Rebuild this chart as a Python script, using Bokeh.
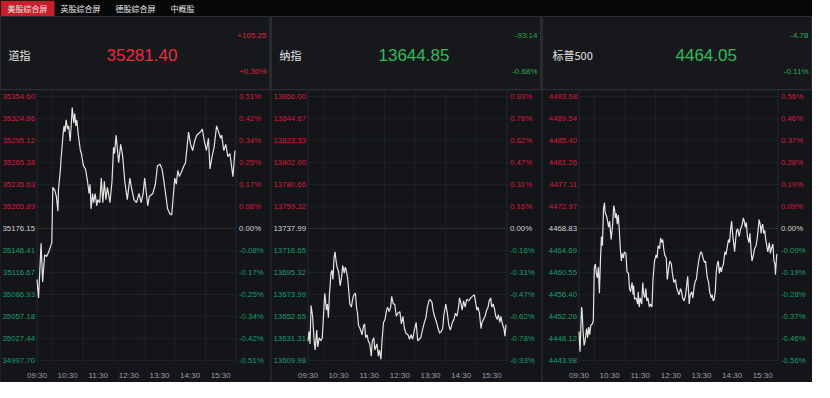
from bokeh.plotting import figure
from bokeh.layouts import column, row
from bokeh.models import Range1d, FixedTicker, ColumnDataSource
from bokeh.embed import file_html
from bokeh.resources import INLINE
from bokeh.core.properties import value

# ---------------- data ----------------
tabs = ["美股综合屏", "英股综合屏", "德股综合屏", "中概股"]
names = ["道指", "纳指", "标普500"]
prev_close = [35176.15, 13737.99, 4468.83]

time_tick_min = [0, 60, 120, 180, 240, 300, 360]
time_tick_labels = ["09:30", "10:30", "11:30", "12:30", "13:30", "14:30", "15:30"]
hour_grid_min = [30, 90, 150, 210, 270, 330]
session_minutes = 390

dow_left = ["35354.60", "35324.86", "35295.12", "35265.38", "35235.63", "35205.89", "35176.15",
            "35146.41", "35116.67", "35086.93", "35057.18", "35027.44", "34997.70"]
dow_right = ["0.51%", "0.42%", "0.34%", "0.25%", "0.17%", "0.08%", "0.00%",
             "-0.08%", "-0.17%", "-0.25%", "-0.34%", "-0.42%", "-0.51%"]
nas_left = ["13866.00", "13844.67", "13823.33", "13802.00", "13780.66", "13759.32", "13737.99",
            "13716.65", "13695.32", "13673.99", "13652.65", "13631.31", "13609.98"]
nas_right = ["0.93%", "0.78%", "0.62%", "0.47%", "0.31%", "0.16%", "0.00%",
             "-0.16%", "-0.31%", "-0.47%", "-0.62%", "-0.78%", "-0.93%"]
spx_left = ["4493.68", "4489.54", "4485.40", "4481.26", "4477.11", "4472.97", "4468.83",
            "4464.69", "4460.55", "4456.40", "4452.26", "4448.12", "4443.98"]
spx_right = ["0.56%", "0.46%", "0.37%", "0.28%", "0.19%", "0.09%", "0.00%",
             "-0.09%", "-0.19%", "-0.28%", "-0.37%", "-0.46%", "-0.56%"]

dow_t = [0, 3, 8, 11, 15, 19, 23, 27, 29, 31, 35, 38, 41, 42, 46, 47, 51, 53, 55, 57,
         60, 62, 65, 67, 69, 72, 74, 76, 78, 81, 85, 87, 91, 95, 99, 102, 104, 106, 109, 111,
         114, 117, 119, 123, 126, 129, 132, 135, 138, 143, 147, 150, 152, 155, 160, 164, 168, 172, 177, 182,
         185, 190, 195, 200, 204, 208, 211, 217, 220, 227, 232, 236, 241, 245, 247, 252, 256, 260, 264, 267,
         270, 273, 276, 279, 283, 288, 291, 294, 297, 301, 305, 309, 313, 320, 324, 328, 332, 336, 339, 343,
         347, 352, 356, 360, 362, 366, 370, 374, 378, 382, 384, 388]
dow_v = [35107.3, 35082.4, 35156.2, 35104.0, 35140.5, 35138.4, 35144.6, 35152.9, 35157.1, 35231.7,
         35227.6, 35219.3, 35199.4, 35227.6, 35256.6, 35269.1, 35302.2, 35314.7, 35306.4, 35323.0,
         35310.5, 35314.7, 35294.0, 35314.7, 35339.6, 35318.8, 35331.3, 35314.7, 35323.0, 35302.2,
         35281.5, 35277.4, 35260.8, 35256.6, 35240.0, 35223.4, 35235.9, 35202.7, 35223.4, 35211.0,
         35223.4, 35206.8, 35215.1, 35211.0, 35244.2, 35211.0, 35240.0, 35215.1, 35231.7, 35211.0,
         35240.0, 35285.7, 35277.4, 35302.2, 35264.9, 35289.8, 35273.2, 35240.0, 35215.1, 35244.2,
         35231.7, 35215.1, 35211.0, 35223.4, 35211.0, 35223.4, 35244.2, 35206.8, 35219.3, 35223.4,
         35235.9, 35260.8, 35262.8, 35256.6, 35248.3, 35223.4, 35202.7, 35196.5, 35194.4, 35219.3,
         35244.2, 35235.9, 35254.5, 35246.2, 35252.5, 35260.8, 35264.9, 35285.7, 35306.4, 35289.8,
         35281.5, 35294.0, 35302.2, 35306.4, 35310.5, 35294.0, 35281.5, 35298.1, 35256.6, 35273.2,
         35285.7, 35314.7, 35306.4, 35298.1, 35302.2, 35281.5, 35289.8, 35273.2, 35277.4, 35256.6,
         35246.2, 35281.4]

nas_t = [0, 2, 4, 6, 9, 12, 14, 17, 19, 22, 25, 28, 32, 33, 36, 38, 40, 42, 45, 47,
         49, 51, 53, 55, 57, 60, 63, 66, 68, 71, 73, 75, 78, 80, 82, 85, 88, 90, 93, 95,
         97, 99, 102, 106, 109, 111, 113, 116, 118, 121, 124, 126, 129, 131, 135, 138, 140, 143, 145, 148,
         151, 154, 156, 159, 162, 164, 167, 170, 173, 176, 180, 183, 186, 189, 192, 196, 199, 202, 205, 209,
         212, 215, 218, 221, 225, 228, 231, 234, 237, 239, 243, 245, 248, 252, 255, 258, 261, 264, 266, 270,
         273, 276, 279, 283, 286, 289, 292, 295, 297, 300, 302, 305, 308, 311, 315, 319, 322, 326, 328, 331,
         333, 336, 339, 341, 344, 347, 350, 353, 355, 358, 360, 363, 366, 368, 371, 373, 376, 378, 381, 384,
         386, 388]
nas_v = [13629.1, 13638.0, 13626.1, 13663.3, 13652.9, 13629.1, 13620.2, 13639.5, 13623.1, 13632.1,
         13629.1, 13632.1, 13667.8, 13675.2, 13658.8, 13664.8, 13651.4, 13673.7, 13694.6, 13697.5,
         13688.6, 13709.4, 13715.4, 13706.5, 13700.5, 13696.0, 13682.6, 13691.6, 13702.0, 13694.6,
         13700.5, 13697.5, 13688.6, 13676.7, 13664.8, 13661.8, 13670.7, 13673.7, 13675.2, 13661.8,
         13655.9, 13644.0, 13641.0, 13635.0, 13644.0, 13645.4, 13632.1, 13635.0, 13629.1, 13626.1,
         13614.2, 13629.1, 13632.1, 13620.2, 13626.1, 13614.2, 13620.2, 13611.2, 13629.1, 13646.9,
         13649.9, 13658.8, 13661.8, 13657.4, 13661.8, 13672.2, 13664.8, 13664.8, 13652.9, 13655.9,
         13657.4, 13645.4, 13652.9, 13641.0, 13636.5, 13635.0, 13630.6, 13635.0, 13630.6, 13641.0,
         13646.9, 13629.1, 13630.6, 13632.1, 13641.0, 13646.9, 13651.4, 13661.8, 13667.8, 13669.3,
         13666.3, 13658.8, 13652.9, 13646.9, 13641.0, 13636.5, 13638.0, 13641.0, 13652.9, 13664.8,
         13655.9, 13644.0, 13639.5, 13646.9, 13649.9, 13655.9, 13652.9, 13661.8, 13670.7, 13664.8,
         13658.8, 13667.8, 13661.8, 13669.3, 13667.8, 13670.7, 13672.2, 13673.7, 13667.8, 13658.8,
         13661.8, 13655.9, 13641.0, 13646.9, 13649.9, 13652.9, 13658.8, 13661.8, 13667.8, 13670.7,
         13661.8, 13664.8, 13658.8, 13652.9, 13649.9, 13654.4, 13646.9, 13652.9, 13645.4, 13641.0,
         13633.5, 13644.85]

spx_t = [0, 2, 5, 6, 8, 10, 12, 15, 17, 19, 21, 23, 26, 28, 30, 32, 34, 36, 38, 40,
         42, 44, 46, 48, 50, 51, 53, 55, 58, 60, 63, 66, 68, 70, 71, 73, 75, 77, 79, 81,
         83, 85, 87, 89, 92, 94, 97, 99, 101, 104, 106, 107, 109, 112, 115, 116, 118, 120, 123, 125,
         127, 129, 131, 133, 135, 138, 140, 143, 145, 148, 151, 153, 155, 158, 160, 162, 164, 166, 168, 171,
         173, 176, 178, 181, 183, 186, 189, 191, 194, 196, 199, 201, 203, 206, 209, 211, 213, 216, 218, 221,
         223, 226, 228, 230, 232, 235, 237, 239, 241, 243, 246, 248, 251, 254, 256, 259, 261, 263, 265, 267,
         269, 271, 273, 275, 277, 279, 281, 283, 286, 288, 291, 293, 295, 297, 299, 301, 303, 305, 307, 309,
         311, 314, 316, 318, 320, 322, 324, 326, 328, 330, 333, 335, 337, 339, 342, 344, 347, 349, 351, 353,
         355, 357, 358, 360, 362, 364, 366, 368, 370, 373, 375, 377, 380, 382, 384, 385, 387, 388]
spx_v = [4449.42, 4445.66, 4454.04, 4453.46, 4449.42, 4446.82, 4447.68, 4449.99, 4448.26, 4450.28,
         4448.84, 4450.57, 4450.86, 4451.44, 4461.55, 4462.13, 4460.39, 4459.53, 4461.55, 4456.64,
         4462.71, 4467.33, 4465.59, 4472.53, 4473.68, 4471.95, 4471.37, 4470.79, 4469.06, 4470.22,
         4466.75, 4469.64, 4473.11, 4472.24, 4470.79, 4471.66, 4469.64, 4471.37, 4468.48, 4465.02,
         4462.71, 4464.15, 4463.28, 4464.44, 4464.15, 4460.68, 4460.39, 4457.51, 4456.93, 4458.66,
         4456.35, 4458.08, 4455.48, 4455.77, 4454.62, 4456.93, 4454.04, 4455.77, 4454.62, 4458.66,
         4456.35, 4455.77, 4457.51, 4455.19, 4455.77, 4454.04, 4454.62, 4454.04, 4459.24, 4462.71,
         4463.86, 4463.28, 4465.59, 4465.02, 4467.04, 4466.17, 4466.75, 4465.02, 4463.86, 4463.28,
         4459.24, 4461.55, 4462.71, 4462.13, 4460.39, 4458.66, 4459.24, 4457.79, 4456.93, 4456.35,
         4457.51, 4456.93, 4455.77, 4455.19, 4456.35, 4458.08, 4459.82, 4454.62, 4456.35, 4456.93,
         4455.77, 4458.08, 4458.95, 4459.24, 4460.97, 4462.99, 4463.86, 4464.44, 4464.15, 4463.28,
         4462.42, 4462.71, 4459.82, 4458.66, 4456.93, 4455.77, 4456.35, 4455.19, 4455.48, 4456.93,
         4460.68, 4462.13, 4462.71, 4460.39, 4461.55, 4460.68, 4461.55, 4462.13, 4464.44, 4463.86,
         4465.59, 4466.75, 4466.17, 4468.48, 4470.22, 4467.91, 4466.17, 4464.44, 4466.75, 4468.48,
         4468.77, 4467.33, 4468.48, 4469.06, 4469.64, 4470.79, 4470.22, 4469.06, 4469.93, 4467.33,
         4466.17, 4467.91, 4465.02, 4462.71, 4463.86, 4465.02, 4465.59, 4466.75, 4468.48, 4470.51,
         4469.64, 4467.91, 4469.06, 4469.64, 4467.91, 4468.48, 4466.75, 4465.59, 4464.44, 4466.17,
         4464.15, 4465.02, 4465.88, 4462.71, 4462.13, 4460.11, 4463.28, 4464.05]

# ---------------- style ----------------
CJK = "Noto Sans CJK SC"
NUM = "Liberation Sans"
TOP_BG = "#060708"
HEAD_BG = "#16181c"
HEAD_BORDER = "#2a2d32"
SEP = "#24272c"
CHART_BG = "#131519"
GRID = "#1e2125"
ZERO_GRID = "#2e3034"
RED_TXT = "#d81b3d"
GREEN_TXT = "#1c9e6c"
WHITE_TXT = "#d4d4d4"
PRICE_RED = "#f0283c"
PRICE_GREEN = "#2dbd5c"
CHG_RED = "#e0263c"
CHG_GREEN = "#2aad58"
LINE = "#e4e4e4"

PW = 270           # panel width
GAP = 1            # separator between panels
TOTAL_W = 3 * PW + 2 * GAP
TAB_H = 16
HEAD_H = 74
CHART_H = 292
AXIS_B = 14
PLOT_L = 36.5      # plot area left edge (px) inside panel
PLOT_W = 199.0     # plot area width (px)

# ---------------- tab bar ----------------
tb = figure(width=TOTAL_W, height=TAB_H, x_range=Range1d(0, TOTAL_W), y_range=Range1d(0, TAB_H),
            toolbar_location=None, output_backend="svg", x_axis_location=None, y_axis_location=None,
            min_border=0)
tb.grid.visible = False
tb.background_fill_color = TOP_BG
tb.border_fill_color = TOP_BG
tb.outline_line_color = None
tab_centers = [27, 80, 135, 182]
tb.quad(left=[0], right=[54], bottom=[0], top=[TAB_H], fill_color="#c81e2c", line_color=None)
tb.text(x=tab_centers, y=[TAB_H / 2] * 4, text=tabs, text_align="center", text_baseline="middle",
        text_font=value(CJK), text_font_size="8px", text_color="#e8e8e8")


def header(name, last, prev, name_x, price_x):
    h = figure(width=PW, height=HEAD_H, x_range=Range1d(0, PW), y_range=Range1d(0, HEAD_H),
               toolbar_location=None, output_backend="svg", x_axis_location=None,
               y_axis_location=None, min_border=0)
    h.grid.visible = False
    h.background_fill_color = HEAD_BG
    h.border_fill_color = HEAD_BG
    h.outline_line_color = HEAD_BORDER
    chg = last - prev
    pct = chg / prev * 100
    up = chg >= 0
    h.text(x=[name_x], y=[36], text=[name], text_align="left", text_baseline="middle",
           text_font=value(CJK), text_font_size="11px", text_color="#e4e4e4")
    h.text(x=[price_x], y=[36], text=[f"{last:.2f}"], text_align="left", text_baseline="middle",
           text_font=value(NUM), text_font_size="17px",
           text_color=PRICE_RED if up else PRICE_GREEN)
    h.text(x=[PW - 4, PW - 4], y=[55, 19], text=[f"{chg:+.2f}", f"{pct:+.2f}%"],
           text_align="right", text_baseline="middle", text_font=value(NUM),
           text_font_size="8px", text_color=CHG_RED if up else CHG_GREEN)
    return h


def chart(t, v, prev, left_labels, right_labels):
    ticks = [float(s) for s in left_labels]
    top, bot = max(ticks), min(ticks)
    frame_h = CHART_H - AXIS_B
    upp = (top - bot) / (frame_h - 9)
    mpp = session_minutes / PLOT_W
    x0 = -PLOT_L * mpp
    x1 = session_minutes + (PW - PLOT_L - PLOT_W) * mpp
    ylo, yhi = bot - 3 * upp, top + 6 * upp
    p = figure(width=PW, height=CHART_H, x_range=Range1d(x0, x1), y_range=Range1d(ylo, yhi),
               toolbar_location=None, output_backend="svg", y_axis_location=None,
               min_border_left=0, min_border_right=0, min_border_top=0,
               min_border_bottom=AXIS_B)
    p.grid.visible = False
    p.background_fill_color = CHART_BG
    p.border_fill_color = CHART_BG
    p.outline_line_color = None

    # horizontal grid
    gcol = [ZERO_GRID if abs(y - prev) < 1e-6 else GRID for y in ticks]
    p.segment(x0=[0] * len(ticks), x1=[session_minutes] * len(ticks), y0=ticks, y1=ticks,
              line_color=gcol, line_width=1)
    # vertical grid + plot borders
    p.segment(x0=hour_grid_min, x1=hour_grid_min, y0=[ylo] * len(hour_grid_min),
              y1=[yhi] * len(hour_grid_min), line_color=GRID, line_width=1)
    p.segment(x0=[0, session_minutes], x1=[0, session_minutes], y0=[ylo, ylo], y1=[yhi, yhi],
              line_color="#25282d", line_width=1)

    # tick labels
    cols = [RED_TXT if y > prev + 1e-6 else (GREEN_TXT if y < prev - 1e-6 else WHITE_TXT)
            for y in ticks]
    src = ColumnDataSource(dict(y=ticks, l=left_labels, r=right_labels, c=cols,
                                xl=[0] * len(ticks), xr=[session_minutes] * len(ticks)))
    p.text(x="xl", y="y", text="l", text_color="c", source=src, text_align="right",
           text_baseline="middle", x_offset=-2, text_font=value(NUM), text_font_size="7.8px")
    p.text(x="xr", y="y", text="r", text_color="c", source=src, text_align="left",
           text_baseline="middle", x_offset=3, text_font=value(NUM), text_font_size="7.8px")

    # price line
    p.line(t, v, line_color=LINE, line_width=1.2)

    # time axis
    p.xaxis.ticker = FixedTicker(ticks=time_tick_min)
    p.xaxis.major_label_overrides = {m: s for m, s in zip(time_tick_min, time_tick_labels)}
    p.xaxis.axis_line_color = None
    p.xaxis.major_tick_line_color = None
    p.xaxis.minor_tick_line_color = None
    p.xaxis.major_label_standoff = 1
    p.xaxis.major_label_text_color = "#9b9fa6"
    p.xaxis.major_label_text_font = NUM
    p.xaxis.major_label_text_font_size = "8px"
    return p


series = [(dow_t, dow_v, dow_left, dow_right),
          (nas_t, nas_v, nas_left, nas_right),
          (spx_t, spx_v, spx_left, spx_right)]
name_xs = [8, 8, 10]
price_xs = [106, 107, 133]

panels = []
for i, (t, v, ll, rl) in enumerate(series):
    h = header(names[i], v[-1], prev_close[i], name_xs[i], price_xs[i])
    c = chart(t, v, prev_close[i], ll, rl)
    panels.append(column(h, c, spacing=0))

body = row(*panels, spacing=GAP, styles={"background-color": SEP})
layout = column(tb, body, spacing=0, styles={"background-color": TOP_BG})
open("out.html", "w").write(file_html(layout, INLINE))
